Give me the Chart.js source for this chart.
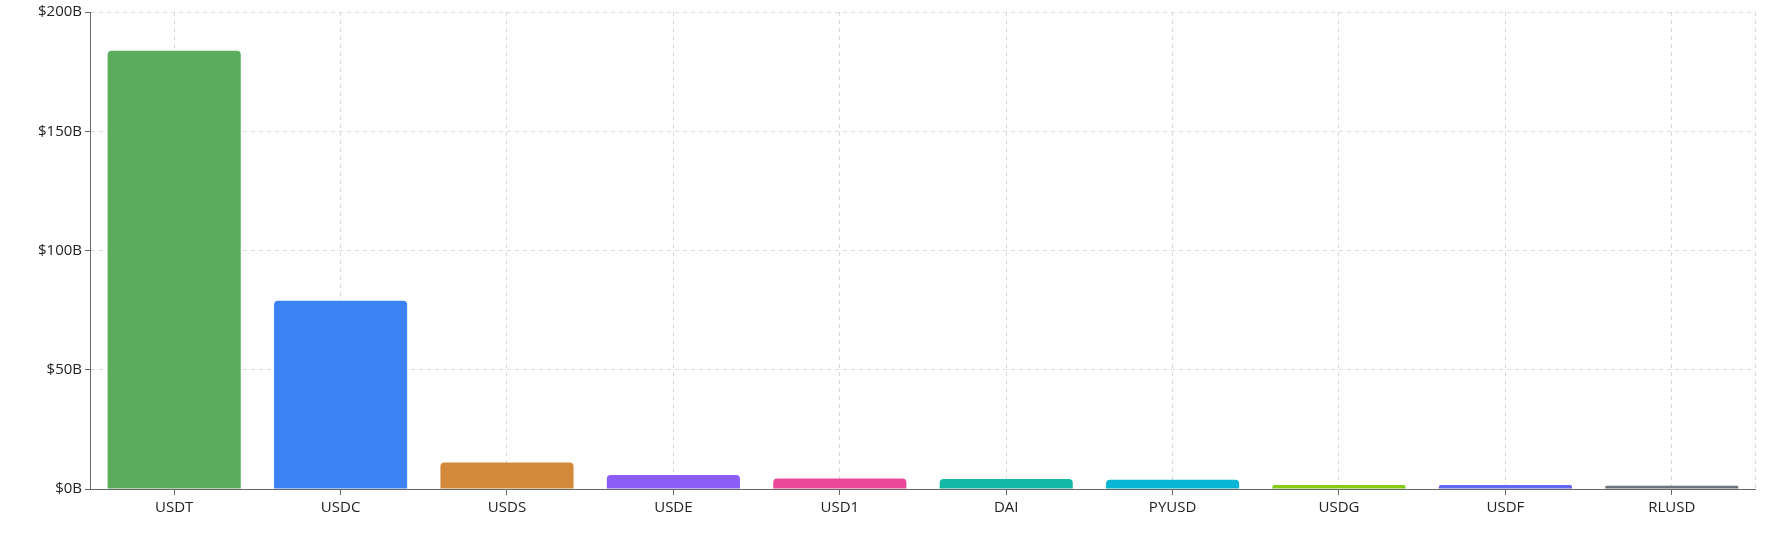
<!DOCTYPE html>
<html>
<head>
<meta charset="utf-8">
<script src="https://cdn.jsdelivr.net/npm/chart.js@4.4.1/dist/chart.umd.min.js"></script>
<style>
  html, body { margin: 0; padding: 0; background: #fff; }
  #wrap { width: 1788px; height: 539px; }
</style>
</head>
<body>
<div id="wrap"><canvas id="supplyChart"></canvas></div>
<script>
/* ---------------------------------
   DATA
--------------------------------- */
const coins = ["USDT", "USDC", "USDS", "USDE", "USD1", "DAI", "PYUSD", "USDG", "USDF", "RLUSD"];
const supplyBillions = [183.8, 78.9, 11.1, 5.9, 4.4, 4.2, 3.9, 1.7, 1.7, 1.4];
const barColors = ["#5bac5c", "#3b82f6", "#d4893a", "#8b5cf6", "#ec4899", "#14b8a6", "#06b6d4", "#84cc16", "#6366f1", "#6b7280"];
const yTicks = [0, 50, 100, 150, 200];

/* ---------------------------------
   RENDERING
--------------------------------- */
// dashed line on the right edge of the plot, like the rest of the grid
const rightEdge = {
  id: "rightEdge",
  beforeDatasetsDraw(chart) {
    const { ctx, chartArea } = chart;
    ctx.save();
    ctx.strokeStyle = "#d9d9d9";
    ctx.lineWidth = 1;
    ctx.setLineDash([4, 4]);
    ctx.beginPath();
    ctx.moveTo(Math.round(chartArea.right) + 0.5, chartArea.top);
    ctx.lineTo(Math.round(chartArea.right) + 0.5, chartArea.bottom);
    ctx.stroke();
    ctx.restore();
  }
};

const font = { family: "'Open Sans', 'Noto Sans', sans-serif", size: 15 };

new Chart(document.getElementById("supplyChart"), {
  type: "bar",
  data: {
    labels: coins,
    datasets: [{
      data: supplyBillions,
      backgroundColor: barColors,
      borderWidth: 0,
      borderRadius: 4,
      categoryPercentage: 0.8,
      barPercentage: 1.0
    }]
  },
  options: {
    responsive: true,
    maintainAspectRatio: false,
    animation: false,
    layout: { padding: { left: 35, right: 33, top: 2, bottom: 18 } },
    plugins: {
      legend: { display: false },
      tooltip: { enabled: false }
    },
    scales: {
      x: {
        grid: {
          offset: false,
          color: "#d9d9d9",
          tickColor: "#666",
          tickLength: 6,
          tickBorderDash: [0, 0]
        },
        border: { color: "#666", dash: [4, 4] },
        ticks: { color: "#222", font, padding: 4, maxRotation: 0 }
      },
      y: {
        min: 0,
        max: 200,
        afterBuildTicks(axis) {
          axis.ticks = yTicks.map((v) => ({ value: v }));
        },
        grid: {
          color: "#d9d9d9",
          tickColor: "#666",
          tickLength: 6,
          tickBorderDash: [0, 0]
        },
        border: { color: "#666", dash: [4, 4] },
        ticks: {
          color: "#222",
          font,
          padding: 3,
          callback: (v) => "$" + v + "B"
        }
      }
    }
  },
  plugins: [rightEdge]
});
</script>
</body>
</html>
